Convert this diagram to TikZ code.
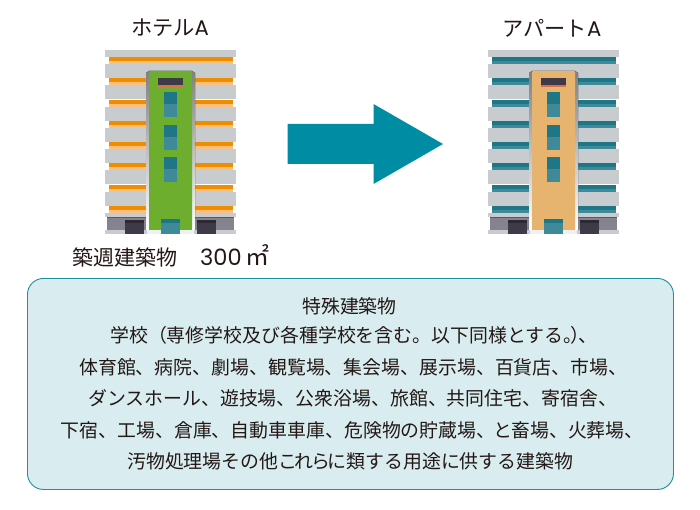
\documentclass[tikz,border=0pt]{standalone}
\usepackage{fontspec}
\setmainfont{Noto Sans CJK JP}
\newfontfamily\latinf{Poppins}
\definecolor{slab}{HTML}{C9CCCF}
\definecolor{orgD}{HTML}{F08C00}
\definecolor{orgL}{HTML}{FBBF80}
\definecolor{teaD}{HTML}{1F7687}
\definecolor{teaL}{HTML}{3E8A98}
\definecolor{shade}{HTML}{B2B2C0}
\definecolor{baseC}{HTML}{85838F}
\definecolor{darkC}{HTML}{3F3A48}
\definecolor{darkT}{HTML}{2E2833}
\definecolor{redC}{HTML}{D8704A}
\definecolor{greenC}{HTML}{6DAE2E}
\definecolor{sandC}{HTML}{E6B46F}
\definecolor{arrowC}{HTML}{008CA3}
\definecolor{boxF}{HTML}{D9EDF0}
\definecolor{boxS}{HTML}{1F8FA3}
\definecolor{txt}{HTML}{231815}
\tikzset{
  x=1pt,y=-1pt,
  lbl/.style={text=txt,font=\fontsize{18.9}{22}\selectfont,inner sep=0pt,anchor=west},
  ttl/.style={text=txt,font=\fontsize{21.2}{25}\selectfont,inner sep=0pt,anchor=center},
}
\newcommand{\bldg}[4]{%
\begin{scope}[xshift=#1]
  \fill[slab] (105,50) rectangle (236,57);
  \foreach \y in {57,78,100,121,142,163,185,206}{
    \fill[#3] (108.5,\y) rectangle (232.5,\y+7.5);
    \fill[#2] (108.5,\y) rectangle (232.5,\y+4);
  }
  \foreach \y in {64,85,107,128,149,170,192}
    \fill[slab] (105,\y) rectangle (236,\y+14);
  \fill[slab] (105,213) rectangle (236,217);
  \fill[baseC] (107,217) rectangle (234,230);
  \fill[darkC!60!baseC] (107,217) rectangle (234,218.5);
  \fill[slab] (105,230) rectangle (236,234);
  \fill[white!70!slab] (147,230) rectangle (194,234);
  \fill[darkC] (125,220) rectangle (144,234);
  \fill[darkT] (125,220) rectangle (144,223);
  \fill[darkC] (197,220) rectangle (216,234);
  \fill[darkT] (197,220) rectangle (216,223);
  \fill[shade] (146,73) -- (149,71) -- (192,71) -- (195,73) -- (195,230) -- (146,230) -- cycle;
  \fill[#4,rounded corners=1pt] (149,71) rectangle (192,230);
  \fill[#4] (149,75) rectangle (192,230);
  \fill[darkC] (158,78) rectangle (183,85);
  \fill[redC] (158,85) rectangle (183,87);
  \foreach \y in {92,125,157}{
    \fill[teaL] (164,\y) rectangle (177,\y+25);
    \fill[teaD] (164,\y) rectangle (177,\y+12);
  }
  \fill[teaL] (161,219) rectangle (180,234);
  \fill[teaD] (161,219) rectangle (180,223);
\end{scope}}
\begin{document}
\begin{tikzpicture}
\useasboundingbox (0,0) rectangle (700,510);
\fill[white] (0,0) rectangle (700,510);
\node[ttl] (t1) at (170,28) {ホテル{\latinf A}};
\node[ttl] (t2) at (552,28) {アパート{\latinf A}};
\bldg{0}{orgD}{orgL}{greenC}
\bldg{383}{teaD}{teaL}{sandC}
\fill[arrowC] (287.5,124) -- (373.5,124) -- (373.5,104) -- (443,144) -- (373.5,184) -- (373.5,164) -- (287.5,164) -- cycle;
\node[text=txt,inner sep=0pt,anchor=west,font=\fontsize{21}{25}\selectfont] (area) at (72,256) {築週建築物\hspace{23pt}{\fontsize{22.5}{25}\latinf 300}\hspace{4pt}{\fontsize{24}{25}\selectfont ㎡}};
\node[draw=boxS,fill=boxF,line width=.9pt,rounded corners=16pt,minimum width=646pt,minimum height=211pt,anchor=north west] (box) at (27,278) {};
\node[lbl] (l1) at (302,306) {特殊建築物};
\node[lbl] (l2) at (110,335) {学校（専修学校及び各種学校を含む。以下同様とする。\hspace{-12pt}）\hspace{-11pt}、};
\node[lbl] (l3) at (79,367) {体育館、病院、劇場、観覧場、集会場、展示場、百貨店、市場、};
\node[lbl] (l4) at (88,398) {ダンスホール、遊技場、公衆浴場、旅館、共同住宅、寄宿舎、};
\node[lbl] (l5) at (60.5,430) {下宿、工場、倉庫、自動車車庫、危険物の貯蔵場、\hspace{-1.5pt}と\hspace{-1.5pt}畜場、火葬場、};
\node[lbl] (l6) at (127,461) {汚物処理場その他こ\hspace{-2.5pt}れ\hspace{-2.5pt}ら\hspace{-2.5pt}に類する用途に供する建築物};
\end{tikzpicture}
\end{document}
